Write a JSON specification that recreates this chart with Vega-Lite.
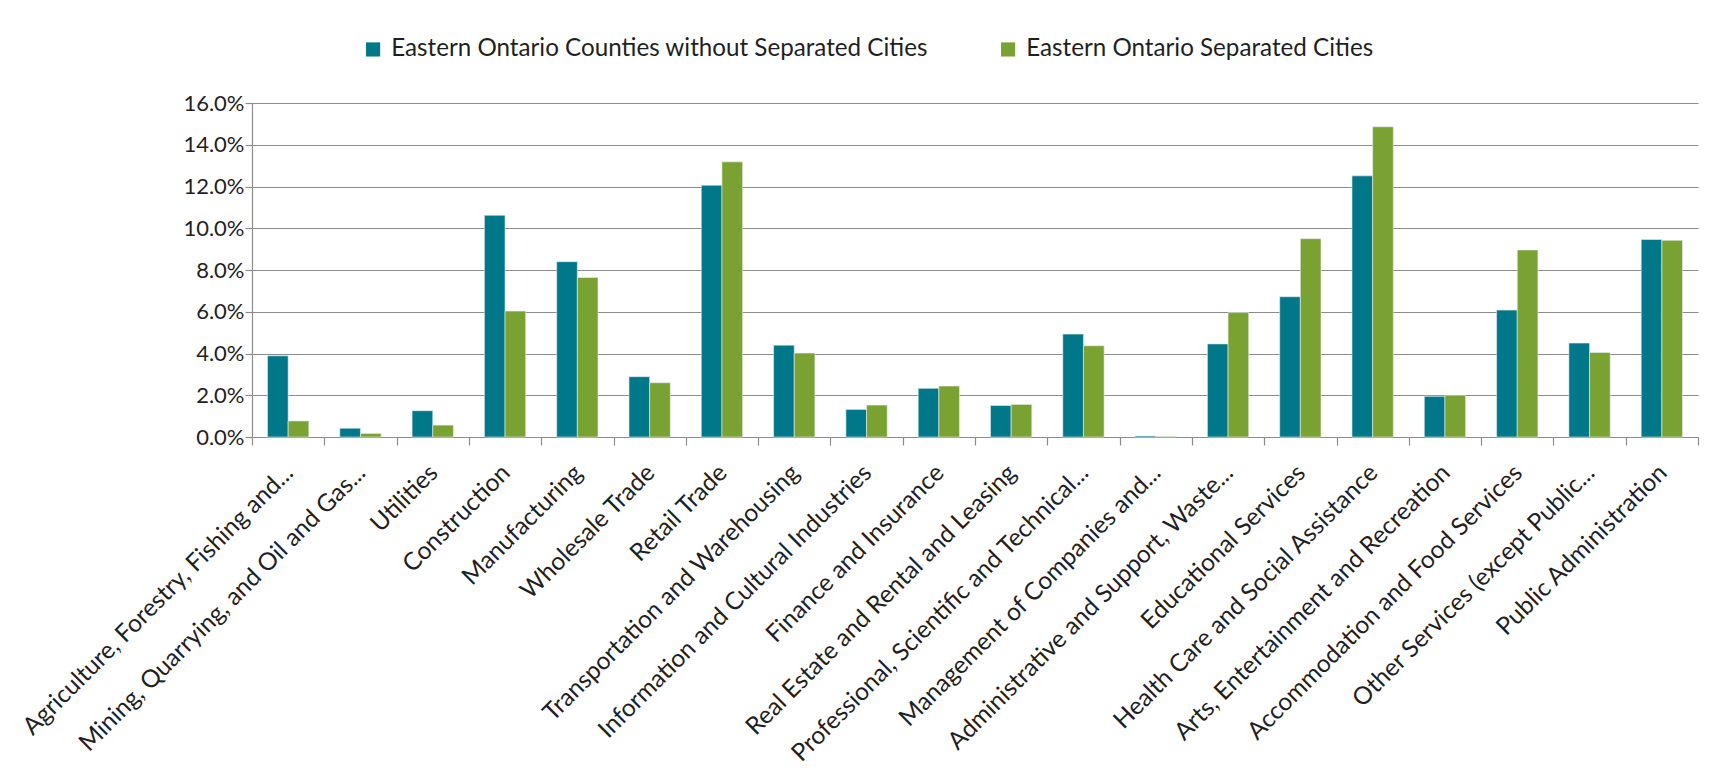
{
  "$schema": "https://vega.github.io/schema/vega-lite/v6.json",
  "width": 1446,
  "height": 334,
  "autosize": {"type": "none"},
  "padding": {"left": 252, "top": 103, "right": 22, "bottom": 332},
  "background": "white",
  "config": {
    "view": {"stroke": null},
    "font": "Lato",
    "axis": {"labelFont": "Lato", "labelColor": "#1f1f1f", "domainColor": "#8c8c8c", "tickColor": "#8c8c8c", "gridColor": "#8c8c8c", "gridWidth": 1, "domainWidth": 1.2, "tickWidth": 1.2},
    "legend": {"labelFont": "Lato", "labelColor": "#1f1f1f"}
  },
  "datasets": {
    "rows": [
      {"industry": "Agriculture, Forestry, Fishing and...", "region": "Eastern Ontario Counties without Separated Cities", "share": 0.0389},
      {"industry": "Agriculture, Forestry, Fishing and...", "region": "Eastern Ontario Separated Cities", "share": 0.0077},
      {"industry": "Mining, Quarrying, and Oil and Gas...", "region": "Eastern Ontario Counties without Separated Cities", "share": 0.0042},
      {"industry": "Mining, Quarrying, and Oil and Gas...", "region": "Eastern Ontario Separated Cities", "share": 0.0017},
      {"industry": "Utilities", "region": "Eastern Ontario Counties without Separated Cities", "share": 0.0126},
      {"industry": "Utilities", "region": "Eastern Ontario Separated Cities", "share": 0.0057},
      {"industry": "Construction", "region": "Eastern Ontario Counties without Separated Cities", "share": 0.1062},
      {"industry": "Construction", "region": "Eastern Ontario Separated Cities", "share": 0.0603},
      {"industry": "Manufacturing", "region": "Eastern Ontario Counties without Separated Cities", "share": 0.084},
      {"industry": "Manufacturing", "region": "Eastern Ontario Separated Cities", "share": 0.0764},
      {"industry": "Wholesale Trade", "region": "Eastern Ontario Counties without Separated Cities", "share": 0.0289},
      {"industry": "Wholesale Trade", "region": "Eastern Ontario Separated Cities", "share": 0.026},
      {"industry": "Retail Trade", "region": "Eastern Ontario Counties without Separated Cities", "share": 0.1206},
      {"industry": "Retail Trade", "region": "Eastern Ontario Separated Cities", "share": 0.1318},
      {"industry": "Transportation and Warehousing", "region": "Eastern Ontario Counties without Separated Cities", "share": 0.044},
      {"industry": "Transportation and Warehousing", "region": "Eastern Ontario Separated Cities", "share": 0.0402},
      {"industry": "Information and Cultural Industries", "region": "Eastern Ontario Counties without Separated Cities", "share": 0.0132},
      {"industry": "Information and Cultural Industries", "region": "Eastern Ontario Separated Cities", "share": 0.0153},
      {"industry": "Finance and Insurance", "region": "Eastern Ontario Counties without Separated Cities", "share": 0.0233},
      {"industry": "Finance and Insurance", "region": "Eastern Ontario Separated Cities", "share": 0.0244},
      {"industry": "Real Estate and Rental and Leasing", "region": "Eastern Ontario Counties without Separated Cities", "share": 0.0151},
      {"industry": "Real Estate and Rental and Leasing", "region": "Eastern Ontario Separated Cities", "share": 0.0156},
      {"industry": "Professional, Scientific and Technical...", "region": "Eastern Ontario Counties without Separated Cities", "share": 0.0493},
      {"industry": "Professional, Scientific and Technical...", "region": "Eastern Ontario Separated Cities", "share": 0.0437},
      {"industry": "Management of Companies and...", "region": "Eastern Ontario Counties without Separated Cities", "share": 0.0005},
      {"industry": "Management of Companies and...", "region": "Eastern Ontario Separated Cities", "share": 0.0003},
      {"industry": "Administrative and Support,  Waste...", "region": "Eastern Ontario Counties without Separated Cities", "share": 0.0446},
      {"industry": "Administrative and Support,  Waste...", "region": "Eastern Ontario Separated Cities", "share": 0.0596},
      {"industry": "Educational Services", "region": "Eastern Ontario Counties without Separated Cities", "share": 0.0672},
      {"industry": "Educational Services", "region": "Eastern Ontario Separated Cities", "share": 0.095},
      {"industry": "Health Care and Social Assistance", "region": "Eastern Ontario Counties without Separated Cities", "share": 0.1251},
      {"industry": "Health Care and Social Assistance", "region": "Eastern Ontario Separated Cities", "share": 0.1486},
      {"industry": "Arts, Entertainment and Recreation", "region": "Eastern Ontario Counties without Separated Cities", "share": 0.0195},
      {"industry": "Arts, Entertainment and Recreation", "region": "Eastern Ontario Separated Cities", "share": 0.02},
      {"industry": "Accommodation and Food Services", "region": "Eastern Ontario Counties without Separated Cities", "share": 0.0608},
      {"industry": "Accommodation and Food Services", "region": "Eastern Ontario Separated Cities", "share": 0.0896},
      {"industry": "Other Services (except Public...", "region": "Eastern Ontario Counties without Separated Cities", "share": 0.045},
      {"industry": "Other Services (except Public...", "region": "Eastern Ontario Separated Cities", "share": 0.0405},
      {"industry": "Public Administration", "region": "Eastern Ontario Counties without Separated Cities", "share": 0.0946},
      {"industry": "Public Administration", "region": "Eastern Ontario Separated Cities", "share": 0.0942}
    ]
  },
  "data": {"name": "rows"},
  "mark": {"type": "bar", "stroke": "#e6eef0", "strokeWidth": 0.6},
  "encoding": {
    "x": {
      "field": "industry",
      "type": "nominal",
      "sort": null,
      "scale": {"paddingInner": 0, "paddingOuter": 0},
      "axis": {"title": null, "labelAngle": -45, "labelAlign": "right", "labelBaseline": "middle", "labelFontSize": 24.5, "labelLimit": 600, "tickBand": "extent", "tickSize": 8, "labelPadding": 24, "labelOffset": 1, "grid": false}
    },
    "xOffset": {
      "field": "region",
      "type": "nominal",
      "sort": ["Eastern Ontario Counties without Separated Cities", "Eastern Ontario Separated Cities"],
      "scale": {"paddingInner": 0, "paddingOuter": 0.75}
    },
    "y": {
      "field": "share",
      "type": "quantitative",
      "scale": {"domain": [0, 0.16], "nice": false},
      "axis": {"title": null, "format": ".1%", "values": [0, 0.02, 0.04, 0.06, 0.08, 0.1, 0.12, 0.14, 0.16], "labelFontSize": 22, "tickSize": 7, "labelPadding": 1, "grid": true}
    },
    "color": {
      "field": "region",
      "type": "nominal",
      "sort": ["Eastern Ontario Counties without Separated Cities", "Eastern Ontario Separated Cities"],
      "scale": {"range": ["#00788a", "#7aa232"]},
      "legend": {
        "title": null,
        "orient": "none",
        "legendX": 109,
        "legendY": -66,
        "direction": "horizontal",
        "columns": 2,
        "columnPadding": 68,
        "symbolType": "square",
        "symbolSize": 200,
        "symbolStrokeWidth": 0,
        "labelFontSize": 24.2,
        "labelLimit": 0,
        "labelOffset": 6,
        "padding": 0
      }
    }
  }
}
